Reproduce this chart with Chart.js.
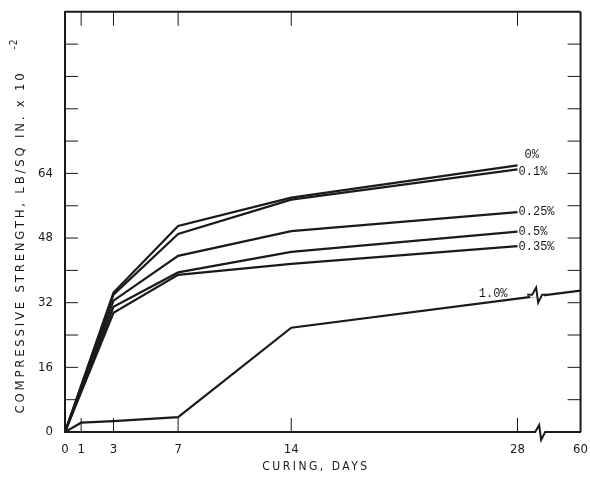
<!DOCTYPE html>
<html>
<head>
<meta charset="utf-8">
<script src="https://cdn.jsdelivr.net/npm/chart.js@4/dist/chart.umd.min.js"></script>
<style>
  html, body { margin: 0; padding: 0; background: #fff; }
  #wrap { width: 590px; height: 482px; }
</style>
</head>
<body>
<div id="wrap"><canvas id="chart" width="590" height="482"></canvas></div>
<script>
// curing days for each series (60 sits past the axis break)
var days = [0, 3, 7, 14, 28];
var daysLong = [0, 1, 3, 7, 14, 28, 60];
var xTickDays = [0, 1, 3, 7, 14, 28, 60];
var yTickVals = [0, 16, 32, 48, 64];

// compressive strength, lb/sq in x 10^-2
var s0 = [0, 34.5, 51, 58, 66];
var s01 = [0, 34, 49, 57.5, 65];
var s025 = [0, 32.5, 43.6, 49.7, 54.4];
var s05 = [0, 31, 39.5, 44.6, 49.6];
var s035 = [0, 29.5, 38.9, 41.6, 46];
var s10 = [0, 2.3, 2.7, 3.7, 25.8, 33, 35];
var seriesLabels = ['0%', '0.1%', '0.25%', '0.5%', '0.35%', '1.0%'];

// days past 28 are squeezed behind the break
var BREAK_POS = 31.9;
function dayPos(d) { return d <= 28 ? d : BREAK_POS; }

function pts(xs, ys) {
  return ys.map(function (v, i) { return { x: dayPos(xs[i]), y: v }; });
}

var condensed = "'DejaVu Sans Condensed', 'Liberation Sans Narrow', sans-serif";
var mono = "'Liberation Mono', 'DejaVu Sans Mono', monospace";

var datasets = [
  pts(days, s0), pts(days, s01), pts(days, s025),
  pts(days, s05), pts(days, s035), pts(daysLong, s10)
].map(function (d, i) {
  return {
    label: seriesLabels[i],
    data: d,
    borderColor: '#1a1a1a',
    borderWidth: 2.2,
    pointRadius: 0,
    tension: 0,
    fill: false
  };
});

// frame, inward ticks, breaks, titles and line labels
var decor = {
  id: 'decor',
  afterDraw: function (chart) {
    var ctx = chart.ctx, a = chart.chartArea;
    var xs = chart.scales.x, ys = chart.scales.y;
    ctx.save();
    ctx.strokeStyle = '#1a1a1a';
    ctx.lineWidth = 2;
    // top and right frame
    ctx.beginPath();
    ctx.moveTo(a.left, a.top); ctx.lineTo(a.right, a.top);
    ctx.moveTo(a.right, a.top); ctx.lineTo(a.right, a.bottom);
    ctx.stroke();

    ctx.lineWidth = 1;
    ctx.beginPath();
    for (var v = 8; v < 104; v += 8) {
      var py = ys.getPixelForValue(v);
      ctx.moveTo(a.left, py); ctx.lineTo(a.left + 13, py);
      ctx.moveTo(a.right, py); ctx.lineTo(a.right - 13, py);
    }
    [1, 3, 7, 14, 28].forEach(function (d) {
      var px = xs.getPixelForValue(dayPos(d));
      ctx.moveTo(px, a.bottom); ctx.lineTo(px, a.bottom - 14);
      ctx.moveTo(px, a.top); ctx.lineTo(px, a.top + 14);
    });
    ctx.stroke();

    // break marks on the axis and on the 1.0% line
    function zig(cx, cy) {
      ctx.fillStyle = '#fff';
      ctx.fillRect(cx - 7, cy - 3, 14, 6);
      ctx.lineWidth = 2;
      ctx.beginPath();
      ctx.moveTo(cx - 10, cy);
      ctx.lineTo(cx - 5, cy);
      ctx.lineTo(cx - 1, cy - 7);
      ctx.lineTo(cx + 1, cy + 8);
      ctx.lineTo(cx + 5, cy);
      ctx.lineTo(cx + 10, cy);
      ctx.stroke();
    }
    var bx = xs.getPixelForValue(29.4);
    zig(bx, a.bottom);
    var ly = ys.getPixelForValue((s10[5] + s10[6]) / 2);
    zig(bx - 3, ly);

    // series labels
    ctx.fillStyle = '#1a1a1a';
    ctx.font = '12px ' + mono;
    ctx.textBaseline = 'middle';
    ctx.textAlign = 'left';
    var x28 = xs.getPixelForValue(28) + 1;
    ctx.fillText(seriesLabels[0], x28 + 6, ys.getPixelForValue(s0[4]) - 11);
    ctx.fillText(seriesLabels[1], x28, ys.getPixelForValue(s01[4]) + 2);
    ctx.fillText(seriesLabels[2], x28, ys.getPixelForValue(s025[4]));
    ctx.fillText(seriesLabels[3], x28, ys.getPixelForValue(s05[4]));
    ctx.fillText(seriesLabels[4], x28, ys.getPixelForValue(s035[4]) + 1);
    ctx.fillText(seriesLabels[5], xs.getPixelForValue(25.6), ys.getPixelForValue(s10[5]) - 5);

    // axis titles
    ctx.font = '12px ' + condensed;
    ctx.letterSpacing = '2.5px';
    ctx.textAlign = 'center';
    ctx.fillText('CURING, DAYS', 316, 467);
    ctx.font = '13px ' + condensed;
    ctx.letterSpacing = '2.8px';
    ctx.translate(21, 236);
    ctx.rotate(-Math.PI / 2);
    ctx.fillText('COMPRESSIVE STRENGTH, LB/SQ IN. x 10', -6, 0);
    ctx.font = '10px ' + condensed;
    ctx.letterSpacing = '1px';
    ctx.fillText('-2', 192, -7);
    ctx.restore();
  }
};

new Chart(document.getElementById('chart'), {
  type: 'line',
  data: { datasets: datasets },
  options: {
    responsive: false,
    animation: false,
    layout: { padding: { top: 10, right: 4, left: 0, bottom: 0 } },
    plugins: { legend: { display: false }, tooltip: { enabled: false } },
    scales: {
      x: {
        type: 'linear',
        min: 0,
        max: BREAK_POS,
        grid: { display: false },
        border: { display: true, color: '#1a1a1a', width: 2 },
        afterBuildTicks: function (scale) {
          scale.ticks = xTickDays.map(function (d) { return { value: dayPos(d), label: String(d) }; });
        },
        afterFit: function (scale) { scale.height = 50; },
        ticks: {
          autoSkip: false,
          maxRotation: 0,
          padding: 2,
          color: '#1a1a1a',
          font: { family: condensed, size: 13 },
          callback: function (val, i) { return String(xTickDays[i]); }
        }
      },
      y: {
        min: 0,
        max: 104,
        grid: { display: false },
        border: { display: true, color: '#1a1a1a', width: 2 },
        afterBuildTicks: function (scale) {
          scale.ticks = yTickVals.map(function (v) { return { value: v }; });
        },
        afterFit: function (scale) { scale.width = 65; },
        ticks: {
          padding: 4,
          color: '#1a1a1a',
          font: { family: condensed, size: 13 }
        }
      }
    }
  },
  plugins: [decor]
});
</script>
</body>
</html>
